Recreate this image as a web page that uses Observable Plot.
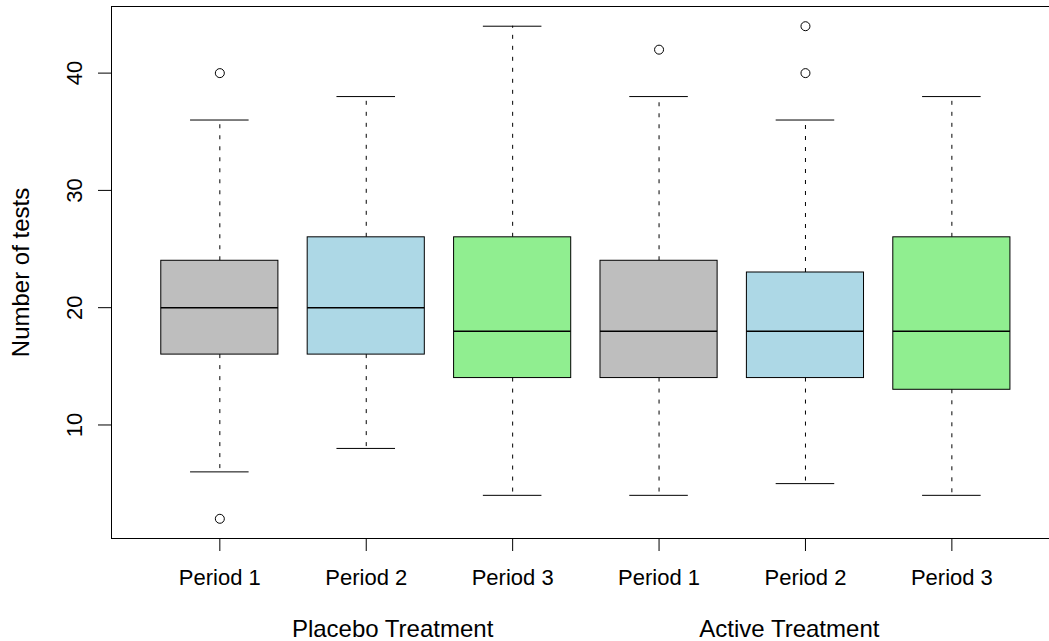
<!DOCTYPE html>
<html>
<head>
<meta charset="utf-8">
<script src="https://cdn.jsdelivr.net/npm/d3@7"></script>
<script src="https://cdn.jsdelivr.net/npm/@observablehq/plot@0.6"></script>
<style>
  html, body { margin: 0; padding: 0; background: #fff; overflow: hidden; }
</style>
</head>
<body>
<div id="chart"></div>
<script>
// ---- data ----
const periodLabels = ["Period 1", "Period 2", "Period 3", "Period 1", "Period 2", "Period 3"];
const groupLabels = ["Placebo Treatment", "Active Treatment"];
const boxColors = ["#BEBEBE", "#ADD8E6", "#90EE90", "#BEBEBE", "#ADD8E6", "#90EE90"];
const lowerWhisker = [6, 8, 4, 4, 5, 4];
const q1 = [16, 16, 14, 14, 14, 13];
const median = [20, 20, 18, 18, 18, 18];
const q3 = [24, 26, 26, 24, 23, 26];
const upperWhisker = [36, 38, 44, 38, 36, 38];
const outlierBox = [1, 1, 4, 5, 5];
const outlierValue = [40, 2, 42, 40, 44];
const yTicks = [10, 20, 30, 40];
const yLabel = "Number of tests";

// ---- tables built from the arrays ----
const boxes = periodLabels.map((p, i) => ({
  pos: i + 1, label: p, color: boxColors[i],
  lo: lowerWhisker[i], q1: q1[i], med: median[i], q3: q3[i], hi: upperWhisker[i]
}));
const outliers = outlierBox.map((b, i) => ({pos: b, value: outlierValue[i]}));

const xDomain = [0.26, 6.74];
const yDomain = [0.32, 45.68];
const font = "'Liberation Sans', Arial, Helvetica, sans-serif";

const chart = Plot.plot({
  width: 1049,
  height: 641,
  marginLeft: 111,
  marginRight: 0,
  marginTop: 6,
  marginBottom: 103,
  style: {fontFamily: font, fontSize: "22px", color: "black", background: "white", maxWidth: "none"},
  x: {type: "linear", domain: xDomain, range: [111, 1059.7], axis: null},
  y: {domain: yDomain, axis: null},
  marks: [
    // plot border (left, top, bottom; right side falls outside the picture)
    Plot.ruleY(yDomain, {stroke: "black", strokeWidth: 1}),
    Plot.ruleX([xDomain[0]], {stroke: "black", strokeWidth: 1}),
    // whiskers (dashed)
    Plot.ruleX(boxes, {x: "pos", y1: "q3", y2: "hi", stroke: "black", strokeWidth: 1, strokeDasharray: "4,7"}),
    Plot.ruleX(boxes, {x: "pos", y1: "q1", y2: "lo", stroke: "black", strokeWidth: 1, strokeDasharray: "4,7"}),
    // staples
    Plot.ruleY(boxes, {y: "hi", x1: d => d.pos - 0.2, x2: d => d.pos + 0.2, stroke: "black", strokeWidth: 1}),
    Plot.ruleY(boxes, {y: "lo", x1: d => d.pos - 0.2, x2: d => d.pos + 0.2, stroke: "black", strokeWidth: 1}),
    // boxes
    Plot.rect(boxes, {x1: d => d.pos - 0.4, x2: d => d.pos + 0.4, y1: "q1", y2: "q3",
      fill: "color", stroke: "black", strokeWidth: 1}),
    // medians
    Plot.ruleY(boxes, {y: "med", x1: d => d.pos - 0.4, x2: d => d.pos + 0.4, stroke: "black", strokeWidth: 1.5}),
    // outliers
    Plot.dot(outliers, {x: "pos", y: "value", r: 4.5, stroke: "black", strokeWidth: 1, fill: "none"}),
    // axes
    Plot.axisX(boxes.map(d => d.pos), {anchor: "bottom", tickSize: 13, tickPadding: 18,
      tickFormat: d => periodLabels[d - 1], fontSize: 22, label: null, stroke: "black", fill: "black"}),
    Plot.axisY(yTicks, {anchor: "left", tickSize: 13, tickFormat: () => "", label: null, stroke: "black"}),
    Plot.text(yTicks, {y: d => d, frameAnchor: "left", text: d => String(d), rotate: -90,
      textAnchor: "middle", lineAnchor: "bottom", dx: -30, fontSize: 22, fill: "black"}),
    // y axis title
    Plot.text([yLabel], {frameAnchor: "left", text: d => d, rotate: -90, textAnchor: "middle",
      lineAnchor: "bottom", dx: -83, fontSize: 24, fill: "black"}),
    // group labels under the axis
    Plot.text(groupLabels, {x: (d, i) => [2.18, 4.89][i], frameAnchor: "bottom", text: d => d,
      textAnchor: "middle", lineAnchor: "bottom", dy: 98.5, fontSize: 24, fill: "black"})
  ]
});
document.getElementById("chart").appendChild(chart);
</script>
</body>
</html>
